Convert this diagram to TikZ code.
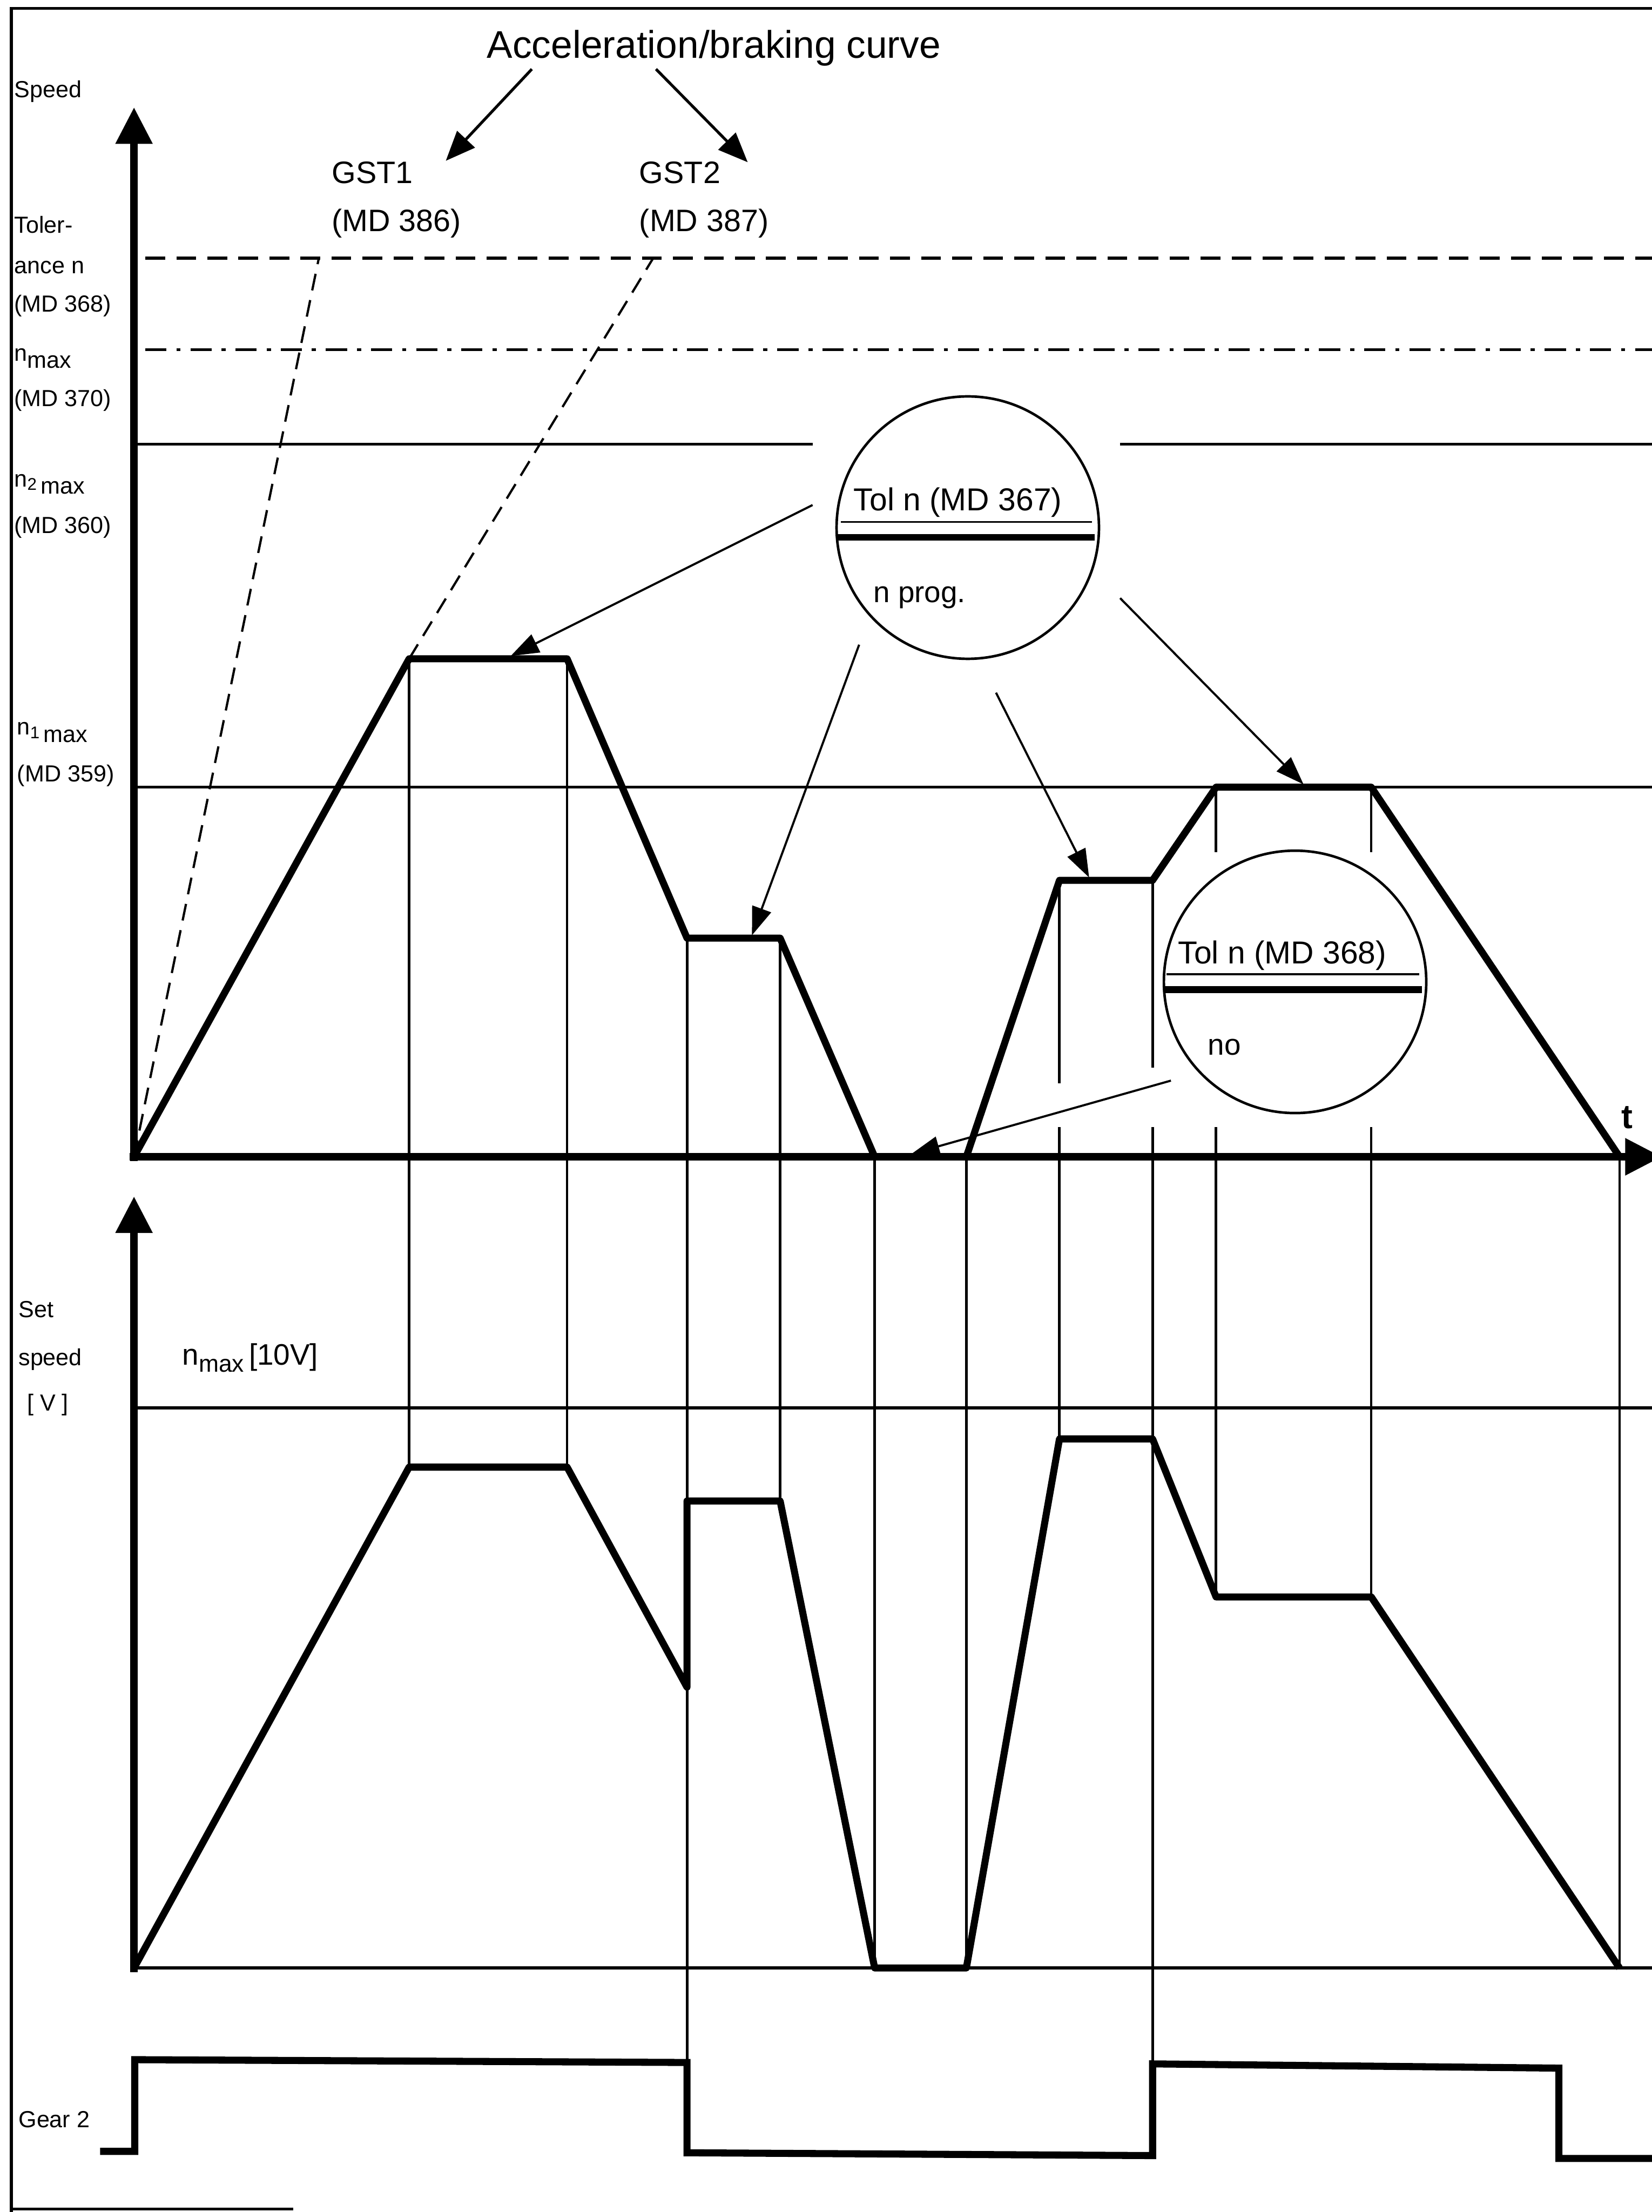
\documentclass[tikz,border=0pt]{standalone}
\usepackage{fontspec}
\setmainfont{Liberation Sans}
\usetikzlibrary{arrows.meta}
\newcommand{\fsz}[1]{\fontsize{#1}{#1}\selectfont}
\newcommand{\nmx}[1]{\raisebox{5pt}{n}\raisebox{2.5pt}{\fsz{12}#1}\,max}

\tikzset{
	lbl/.style={anchor=base west,inner sep=0pt,font=\fsz{16.5}},
	txt/.style={anchor=base west,inner sep=0pt,font=\fsz{22}},
	hline/.style={line width=2pt},
	vline/.style={line width=1.8pt},
	axis/.style={line width=5.5pt,-{Triangle[length=26pt,width=25pt]}},
	curve/.style={line width=5pt,line join=round},
	pointer/.style={line width=1.5pt,-{Triangle[length=20pt,width=14pt]}},
	bigpointer/.style={line width=2pt,-{Triangle[length=21pt,width=17pt]}},
	tolcircle/.style={circle,draw,line width=1.8pt,minimum size=186pt,inner sep=0pt}
}

\begin{document}
\begin{tikzpicture}[x=1pt,y=-1pt]
	\useasboundingbox (0,0) rectangle (1171,1568);
	\draw [line width=2pt](8,1568)--(8,6)--(1190,6);
	\draw [line width=2pt](8,1566)--(208,1566);

	\coordinate (sp0) at (95,820);
	\coordinate (sp1) at (290,467);
	\coordinate (sp2) at (402,467);
	\coordinate (sp3) at (487,665);
	\coordinate (sp4) at (553,665);
	\coordinate (sp5) at (620,820);
	\coordinate (sp6) at (685,820);
	\coordinate (sp7) at (751,624);
	\coordinate (sp8) at (817,624);
	\coordinate (sp9) at (862,558);
	\coordinate (sp10) at (972,558);
	\coordinate (sp11) at (1148,820);

	\coordinate (ss0) at (95,1395);
	\coordinate (ss1) at (290,1040);
	\coordinate (ss2) at (402,1040);
	\coordinate (ss3) at (487,1196);
	\coordinate (ss4) at (487,1064);
	\coordinate (ss5) at (553,1064);
	\coordinate (ss6) at (620,1395);
	\coordinate (ss7) at (685,1395);
	\coordinate (ss8) at (751,1020);
	\coordinate (ss9) at (817,1020);
	\coordinate (ss10) at (862,1132);
	\coordinate (ss11) at (972,1132);
	\coordinate (ss12) at (1148,1395);

	\coordinate (g0) at (71,1525);
	\coordinate (g1) at (95.5,1525);
	\coordinate (g2) at (95.5,1460);
	\coordinate (g3) at (487,1462);
	\coordinate (g4) at (487,1526);
	\coordinate (g5) at (817,1528);
	\coordinate (g6) at (817,1463);
	\coordinate (g7) at (1105,1466);
	\coordinate (g8) at (1105,1530);
	\coordinate (g9) at (1180,1530);

	\node (speed) at (10,69) [lbl]{Speed};
	\node (toler) at (10,165) [lbl]{Toler-};
	\node (ancen) at (10,194) [lbl]{ance n};
	\node (md368) at (10,221) [lbl]{(MD 368)};
	\node (nmax) at (10,261) [lbl]{\raisebox{5pt}{n}max};
	\node (md370) at (10,288) [lbl]{(MD 370)};
	\node (n2max) at (10,350) [lbl]{\nmx{2}};
	\node (md360) at (10,378) [lbl]{(MD 360)};
	\node (n1max) at (12,526) [lbl]{\nmx{1}};
	\node (md359) at (12,554) [lbl]{(MD 359)};
	\node (set) at (13,934) [lbl]{Set};
	\node (setspeed) at (13,968) [lbl]{speed};
	\node (volt) at (19,1000) [lbl]{[ V ]};
	\node (gear) at (13,1508) [lbl]{Gear 2};

	\node (title) at (345,41) [anchor=base west,inner sep=0pt,font=\fsz{27.3}]{Acceleration/braking curve};
	\node (gst1) at (235,130) [txt]{GST1};
	\node (md386) at (235,164) [txt]{(MD 386)};
	\node (gst2) at (453,130) [txt]{GST2};
	\node (md387) at (453,164) [txt]{(MD 387)};
	\coordinate (ta1) at (377,49);
	\coordinate (tb1) at (316,114);
	\coordinate (ta2) at (465,49);
	\coordinate (tb2) at (530,115);
	\draw [bigpointer](ta1)--(tb1);
	\draw [bigpointer](ta2)--(tb2);

	\draw [hline,dash pattern=on 14pt off 8pt](103,183)--(1171,183);
	\draw [hline,dash pattern=on 15pt off 7pt on 3pt off 7pt](103,248)--(1171,248);
	\draw [hline](95,315)--(576,315);
	\draw [hline](794,315)--(1171,315);
	\draw [hline](95,558)--(1171,558);
	\draw [line width=1.6pt,dash pattern=on 12pt off 7pt](sp0)--(226,183);
	\draw [line width=1.6pt,dash pattern=on 12pt off 7pt](sp1)--(463,183);

	\node (tol1) at (686,374) [tolcircle]{};
	\node (tol1txt) at (605,362) [anchor=base west,inner sep=0pt,font=\fsz{22.5}]{Tol n (MD 367)};
	\node (nprog) at (619,427) [anchor=base west,inner sep=0pt,font=\fsz{21}]{n prog.};
	\draw [line width=1.5pt](596,370)--(774,370);
	\draw [line width=4.7pt](593,381)--(776,381);

	\node (tol2) at (918,696) [tolcircle]{};
	\node (tol2txt) at (835,683) [anchor=base west,inner sep=0pt,font=\fsz{22.5}]{Tol n (MD 368)};
	\node (no) at (856,748) [anchor=base west,inner sep=0pt,font=\fsz{21}]{no};
	\draw [line width=1.5pt](827,690.5)--(1006,690.5);
	\draw [line width=4.7pt](825,701.5)--(1008,701.5);

	\coordinate (p1s) at (576,358);
	\coordinate (p1e) at (362,465);
	\coordinate (p2s) at (609,457);
	\coordinate (p2e) at (533,663);
	\coordinate (p3s) at (706,491);
	\coordinate (p3e) at (772,622);
	\coordinate (p4s) at (794,424);
	\coordinate (p4e) at (924,556);
	\coordinate (p5s) at (830,766);
	\coordinate (p5e) at (646,818);
	\foreach \a in {1,...,5}
		\draw [pointer](p\a s)--(p\a e);

	\draw [vline](sp1)--(ss1);
	\draw [vline](sp2)--(ss2);
	\draw [vline](sp3)--(g3);
	\draw [vline](sp4)--(ss5);
	\draw [vline](sp5)--(ss6);
	\draw [vline](sp6)--(ss7);
	\draw [vline](sp7)--(sp7|-0,768) (sp7|-0,799)--(ss8);
	\draw [vline](sp8)--(sp8|-0,757) (sp8|-0,799)--(g6);
	\draw [vline](sp9)--(sp9|-0,604) (sp9|-0,799)--(ss10);
	\draw [vline](sp10)--(sp10|-0,604) (sp10|-0,799)--(ss11);
	\draw [vline](sp11)--(ss12);

	\draw [axis](95,823)--(95,76);
	\draw [axis](92,820)--(1178,820);
	\node (t) at (1149,800) [anchor=base west,inner sep=0pt,font=\fsz{24}\bfseries]{t};
	\draw [curve](sp0)--(sp1)--(sp2)--(sp3)--(sp4)--(sp5)--(sp6)--(sp7)--(sp8)--(sp9)--(sp10)--(sp11);

	\draw [axis](95,1398)--(95,848);
	\draw [line width=2.5pt](95,1395)--(1171,1395);
	\draw [hline](95,998)--(1171,998);
	\node (nmaxv) at (129,967.5) [anchor=base west,inner sep=0pt,font=\fsz{21}]{n\raisebox{-5pt}{\fsz{17}max}\,[10V]};
	\draw [curve](ss0)--(ss1)--(ss2)--(ss3)--(ss4)--(ss5)--(ss6)--(ss7)--(ss8)--(ss9)--(ss10)--(ss11)--(ss12);

	\draw [curve,line join=miter](g0)--(g1)--(g2)--(g3)--(g4)--(g5)--(g6)--(g7)--(g8)--(g9);
\end{tikzpicture}
\end{document}
